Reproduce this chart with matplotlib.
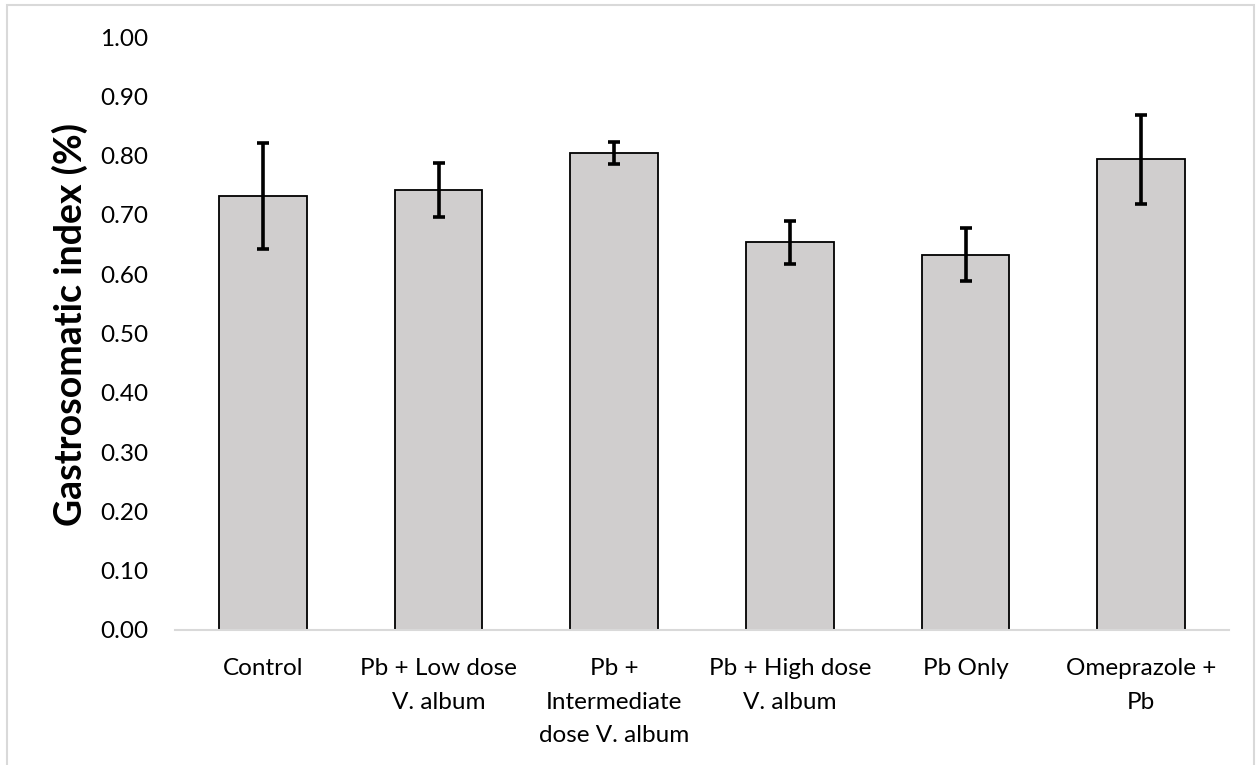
import numpy as np
import matplotlib
matplotlib.use("Agg")
import matplotlib.pyplot as plt
from matplotlib.patches import Rectangle

groups = ["Control", "Pb + Low dose\nV. album", "Pb +\nIntermediate\ndose V. album",
          "Pb + High dose\nV. album", "Pb Only", "Omeprazole +\nPb"]
gsi = [0.732, 0.742, 0.804, 0.654, 0.633, 0.794]
gsi_err = [0.090, 0.045, 0.019, 0.036, 0.045, 0.075]
yticks = [0.0, 0.1, 0.2, 0.3, 0.4, 0.5, 0.6, 0.7, 0.8, 0.9, 1.0]

plt.rcParams['font.family'] = ['Lato', 'DejaVu Sans']

fig = plt.figure(figsize=(12.57, 7.65), dpi=100)
ax = fig.add_axes([175/1257, 1 - 630/765, (1229-175)/1257, (630-37)/765])

x = np.arange(len(groups))
ax.bar(x, gsi, width=0.5, color='#d0cece', edgecolor='black', linewidth=1.3, zorder=2)
ax.errorbar(x, gsi, yerr=gsi_err, fmt='none', ecolor='black', elinewidth=2.6,
            capsize=4, capthick=2.6, zorder=3)

ax.set_xlim(-0.5, len(groups) - 0.5)
ax.set_ylim(0, 1.0)
ax.set_yticks(yticks)
ax.set_yticklabels([f"{v:.2f}" for v in yticks], fontsize=17.5)
ax.set_xticks(x)
ax.set_xticklabels(groups, fontsize=17.5, linespacing=1.75)
ax.tick_params(axis='y', length=0, pad=19)
ax.tick_params(axis='x', length=0, pad=20)

for s in ['top', 'right', 'left']:
    ax.spines[s].set_visible(False)
ax.spines['bottom'].set_color('#d9d9d9')
ax.spines['bottom'].set_linewidth(1.5)

ax.set_ylabel("Gastrosomatic index (%)", fontsize=27, fontweight='bold')
ax.yaxis.set_label_coords(-0.083, 0.516)

# outer chart frame
fig.patches.append(Rectangle((7/1257, -0.01), (1254-7)/1257, 1 - 5/765 + 0.01,
                             transform=fig.transFigure, fill=False,
                             edgecolor='#d9d9d9', linewidth=1.5))

fig.savefig("out.png", dpi=100)
